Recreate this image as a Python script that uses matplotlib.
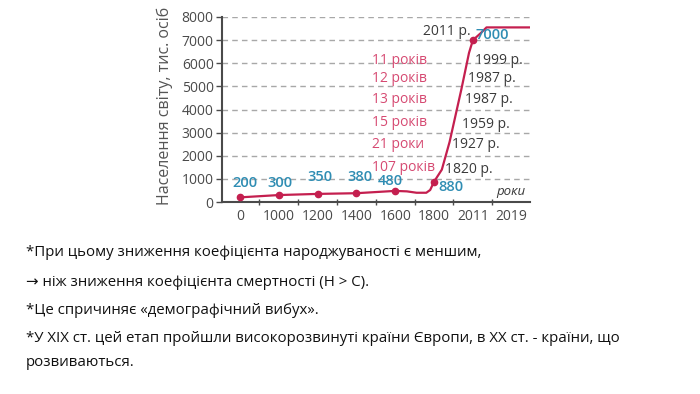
import matplotlib
matplotlib.use('Agg')
import matplotlib.pyplot as plt

# ───────────────── data ─────────────────
year_labels = ['0', '1000', '1200', '1400', '1600', '1800', '2011', '2019']
marker_pos = [0, 1, 2, 3, 4, 5, 6]
marker_val = [200, 300, 350, 380, 480, 880, 7000]
value_labels = ['200', '300', '350', '380', '480', '880', '7000']

# traced course of the curve between the markers (position, population)
curve_pos = [0, 1, 2, 3, 4, 4.3, 4.55, 4.8, 4.9, 5.0, 5.2, 5.4, 5.7, 5.9, 6.0, 6.2, 6.35, 7.5]
curve_val = [200, 300, 350, 380, 480, 460, 400, 400, 520, 880, 1400, 2600, 4850, 6450, 7000, 7300, 7550, 7550]

gap_labels = ['11 років', '12 років', '13 років', '15 років', '21 роки', '107 років']
gap_years = ['1999 р.', '1987 р.', '1987 р.', '1959 р.', '1927 р.', '1820 р.']
gap_rows = [6100, 5330, 4420, 3450, 2470, 1490]
gap_year_x = [6.06, 5.88, 5.80, 5.72, 5.46, 5.28]

notes = ['*При цьому зниження коефіцієнта народжуваності є меншим,',
         '→ ніж зниження коефіцієнта смертності (Н > С).',
         '*Це спричиняє «демографічний вибух».',
         '*У XIX ст. цей етап пройшли високорозвинуті країни Європи, в XX ст. - країни, що',
         'розвиваються.']
note_y = [252, 282, 310, 339, 362]

RED, PINK, BLUE, DARK, AX = '#c41f4f', '#d64a72', '#2f8db3', '#3a3a3a', '#4a4a4a'
plt.rcParams['font.family'] = ['Open Sans', 'DejaVu Sans']

fig = plt.figure(figsize=(7, 3.94), dpi=100)
ax = fig.add_axes([222/700, 1-202/394, 308/700, 185/394])

ax.plot(curve_pos, curve_val, c=RED, lw=1.6, zorder=3)
ax.plot(marker_pos, marker_val, ls='none', marker='o', ms=4.5, c=RED, zorder=4)

ax.set_xlim(-0.46, 7.47); ax.set_ylim(0, 8000)
ax.set_yticks(range(0, 8001, 1000))
ax.tick_params(axis='y', direction='out', length=4, width=1, color=AX,
               labelsize=10, labelcolor=AX, pad=2)
ax.set_xticks([p + .5 for p in range(7)], [''] * 7)
ax.set_xticks(range(8), year_labels, minor=True)
ax.tick_params(axis='x', which='major', direction='inout', length=5, width=1, color=AX)
ax.tick_params(axis='x', which='minor', length=0, labelsize=10, labelcolor=AX, pad=5)
ax.grid(axis='y', ls=(0, (4, 3)), color='#a8a8a8', lw=1, zorder=1)
for s in ('top', 'right'):
    ax.spines[s].set_visible(False)
for s in ('left', 'bottom'):
    ax.spines[s].set_color(AX); ax.spines[s].set_linewidth(1.5)

# blue values along the curve
lbl_xy = [(0.12, 830), (1.04, 830), (2.06, 1080), (3.09, 1080), (3.87, 900), (5.1, 650), (6.06, 7220)]
for (x, y), t in zip(lbl_xy, value_labels):
    ha = 'left' if t in ('880', '7000') else 'center'
    ax.text(x, y, t, color=BLUE, fontsize=10.5, fontweight='semibold', ha=ha, va='center', zorder=5)

ax.text(5.93, 7360, '2011 р.', color=DARK, fontsize=10, ha='right', va='center')
for lbl, yr, row, xx in zip(gap_labels, gap_years, gap_rows, gap_year_x):
    ax.text(3.40, row, lbl, color=PINK, fontsize=10, ha='left', va='center')
    ax.text(xx, row - (100 if yr in ('1959 р.', '1820 р.') else 0), yr,
            color=DARK, fontsize=10, ha='left', va='center')
ax.text(7.35, 450, 'роки', color=DARK, fontsize=9.5, style='italic', ha='right', va='center')

fig.text(165/700, 1-106/394, 'Населення світу, тис. осіб', rotation=90,
         color='#555555', fontsize=11.5, ha='center', va='center')

for t, y in zip(notes, note_y):
    fig.text(26/700, 1-y/394, t, color='#111111', fontsize=10.8, ha='left', va='center')

fig.savefig('out.png', dpi=100)
